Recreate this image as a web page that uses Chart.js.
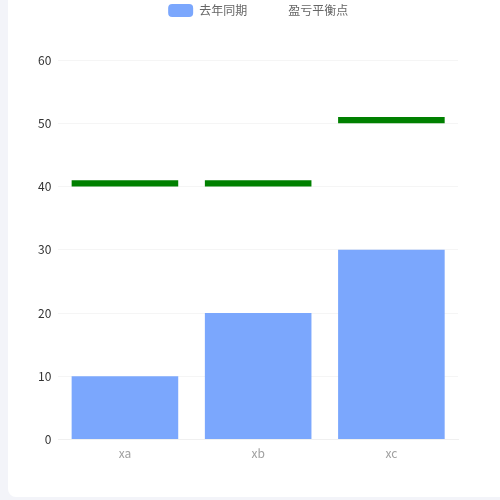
<!DOCTYPE html>
<html><head><meta charset="utf-8">
<script src="https://cdn.jsdelivr.net/npm/chart.js@4/dist/chart.umd.min.js"></script>
<style>
html,body{margin:0;padding:0;background:#f3f4f9;width:500px;height:500px;overflow:hidden}
#card{position:absolute;left:8px;top:0;width:492px;height:497px;background:#fff;border-bottom-left-radius:8px}
canvas{display:block}
</style></head><body>
<div id="card"><canvas id="c" width="492" height="497"></canvas></div>
<script>
const categories = ['xa','xb','xc'];
const lastYear = [10, 20, 30];
const breakEvenLow = [40, 40, 50];
const breakEvenHigh = [41, 41, 51];
const yTicks = [0, 10, 20, 30, 40, 50, 60];
const seriesNames = ['去年同期', '盈亏平衡点'];

const font = "'Noto Sans CJK SC', 'Noto Sans', sans-serif";
const legendSpace = {
  id: 'legendSpace',
  beforeInit(chart) {
    const orig = chart.legend.fit;
    chart.legend.fit = function () { orig.call(this); this.height += 33; };
  }
};
new Chart(document.getElementById('c'), {
  type: 'bar',
  plugins: [legendSpace],
  data: {
    labels: categories,
    datasets: [
      { label: seriesNames[0], data: lastYear, backgroundColor: '#7ba7fd', borderWidth: 0,
        categoryPercentage: 0.8, barPercentage: 1, order: 2 },
      { label: seriesNames[1], data: breakEvenLow.map((v,i)=>[v, breakEvenHigh[i]]),
        backgroundColor: '#008000', borderWidth: 0,
        categoryPercentage: 0.8, barPercentage: 1, order: 1 }
    ]
  },
  options: {
    responsive: false, animation: false,
    layout: { padding: { left: 23, right: 42, top: -6, bottom: 29 } },
    plugins: {
      legend: {
        fullSize: false,
        labels: {
          font: { family: font, size: 12 }, color: '#666', boxWidth: 25, boxHeight: 13, padding: 10,
          generateLabels: (chart) => chart.data.datasets.map((d, i) => ({
            text: d.label, fillStyle: i === 0 ? '#7ba7fd' : 'rgba(0,0,0,0)', strokeStyle: 'rgba(0,0,0,0)',
            lineWidth: 0, borderRadius: 4, datasetIndex: i, fontColor: '#666', hidden: false
          }))
        }
      },
      tooltip: { enabled: false }
    },
    scales: {
      x: {
        stacked: false,
        grid: { display: false, drawTicks: false },
        border: { color: '#f0f0f0' },
        ticks: { color: '#a0a0a0', font: { family: font, size: 12 }, padding: 7 }
      },
      y: {
        min: 0, max: 60,
        afterBuildTicks: (s) => { s.ticks = yTicks.map(v => ({ value: v })); },
        grid: { color: '#f5f5f5', drawTicks: false },
        border: { display: false },
        ticks: { color: '#333', font: { family: font, size: 12 }, padding: 7 }
      }
    },
    datasets: { bar: { grouped: false } }
  }
});
</script>
</body></html>
